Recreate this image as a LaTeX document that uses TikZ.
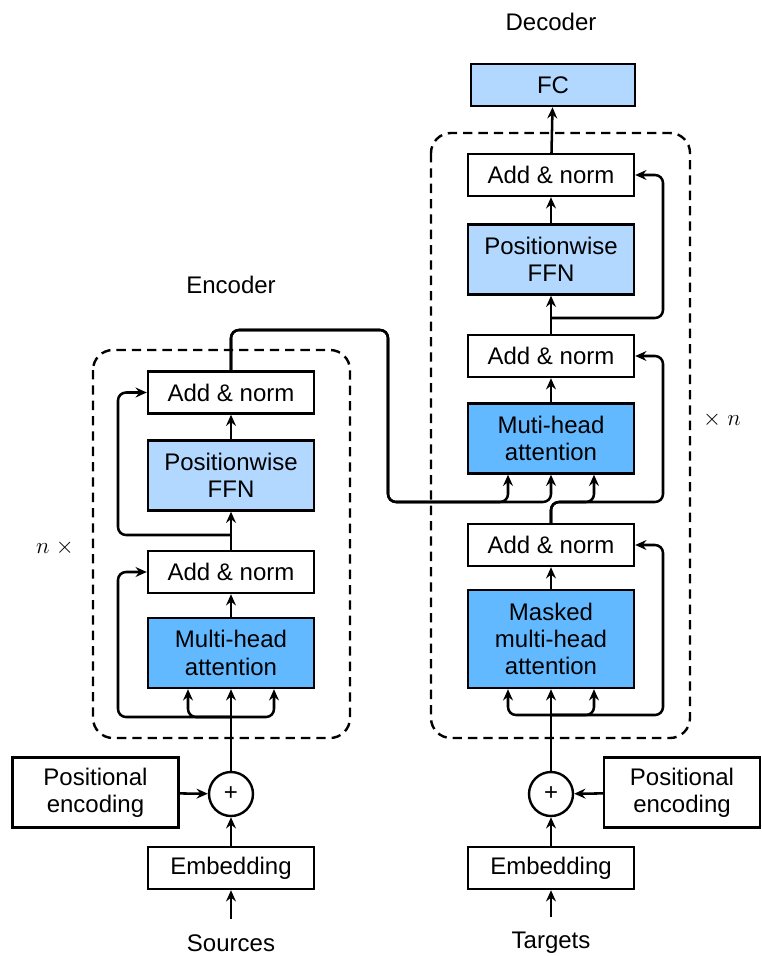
\documentclass[tikz,border=0pt]{standalone}
\usepackage{fontspec}
\setmainfont{Liberation Sans}
\usepackage{xcolor}
\usepackage{tikz}
\usetikzlibrary{arrows.meta}

\definecolor{attblue}{RGB}{99,185,255}
\definecolor{ffnblue}{RGB}{178,216,255}

\begin{document}
\begin{tikzpicture}[x=0.75pt,y=0.75pt,yscale=-1,xscale=1,
    every node/.style={font=\fontsize{18}{20.5}\selectfont},
    box/.style={draw,line width=1.8pt,minimum width=124.5pt,inner sep=0pt,align=center},
    normbox/.style={box,fill=white,minimum height=31.5pt},
    ffnbox/.style={box,fill=ffnblue,minimum height=52.5pt},
    attbox/.style={box,fill=attblue,minimum height=52.5pt},
    plusnode/.style={draw,circle,line width=1.8pt,minimum size=33pt,inner sep=0pt},
    link/.style={line width=1.9pt,rounded corners=6pt,-{Stealth[length=8.5pt,width=7.5pt,inset=3pt]}},
    stack/.style={draw,line width=1.8pt,dash pattern=on 7pt off 4.5pt,rounded corners=15pt}]
        \useasboundingbox (0,0) rectangle (761,956);

        % dashed stacks
        \draw[stack] (93,350) rectangle (350,738);
        \draw[stack] (431,133) rectangle (690,738);

        % encoder
        \node (enclabel) at (231,285) {Encoder};
        \node[normbox] (eadd2) at (231,392.5) {Add \& norm};
        \node[ffnbox] (effn) at (231,475.5) {Positionwise\\FFN};
        \node[normbox] (eadd1) at (231,572) {Add \& norm};
        \node[attbox] (eatt) at (231,653) {Multi-head\\attention};
        \node[plusnode] (eplus) at (231,794) {+};
        \node[box,minimum height=52.5pt] (epos) at (95.5,792.5) {Positional\\encoding};
        \node[normbox] (eemb) at (231,868) {Embedding};
        \node (src) at (231,943) {Sources};
        \node (encn) at (55,548) {$n\;\times$};
        \coordinate (ebr) at (231,717);
        \coordinate (emid) at (231,535);

        % decoder
        \node (declabel) at (551,22) {Decoder};
        \node[box,fill=ffnblue,minimum width=123pt,minimum height=31.5pt] (fc) at (553,85) {FC};
        \node[normbox] (dadd3) at (551,175) {Add \& norm};
        \node[ffnbox] (dffn) at (551,259.5) {Positionwise\\FFN};
        \node[normbox] (dadd2) at (551,356) {Add \& norm};
        \node[attbox] (datt) at (551,438.5) {Muti-head\\attention};
        \node[normbox] (dadd1) at (551,545) {Add \& norm};
        \node[attbox,minimum height=73.5pt] (dmask) at (551,639) {Masked\\multi-head\\attention};
        \node[plusnode] (dplus) at (551,794) {+};
        \node[box,minimum width=117pt,minimum height=52.5pt] (dpos) at (682,792.5) {Positional\\encoding};
        \node[normbox] (demb) at (551,868) {Embedding};
        \node (tgt) at (551,943) {Targets};
        \node (decn) at (722,420) {$\times\; n$};
        \coordinate (dbr) at (551,715);
        \coordinate (dmid) at (551,318);
        \coordinate (dup) at (551,502);

        % encoder links
        \draw[link,shorten <=8pt] (src) -- (eemb);
        \draw[link] (eemb) -- (eplus);
        \draw[link] (epos) -- (eplus);
        \draw[link] (eplus) -- (eatt);
        \draw[link] (ebr) -| ([xshift=-32.25pt]eatt.south);
        \draw[link] (ebr) -| ([xshift=32.25pt]eatt.south);
        \draw[link] (ebr) -- (118,717) |- (eadd1.west);
        \draw[link] (eatt) -- (eadd1);
        \draw[link] (eadd1) -- (effn);
        \draw[link] (emid) -- (118,535) |- (eadd2.west);
        \draw[link] (effn) -- (eadd2);

        % encoder to decoder
        \draw[link] (eadd2.north) -- (231,330) -- (388,330) -- (388,502) -| ([xshift=-32.25pt]datt.south);
        \draw[link] (eadd2.north) -- (231,330) -- (388,330) -- (388,502) -| (datt.south);

        % decoder links
        \draw[link,shorten <=8pt] (tgt) -- (demb);
        \draw[link] (demb) -- (dplus);
        \draw[link] (dpos) -- (dplus);
        \draw[link] (dplus) -- (dmask);
        \draw[link] (dbr) -| ([xshift=-32.25pt]dmask.south);
        \draw[link] (dbr) -| ([xshift=32.25pt]dmask.south);
        \draw[link] (dbr) -- (663,715) |- (dadd1.east);
        \draw[link] (dmask) -- (dadd1);
        \draw[link] (dadd1.north) -- (dup) -| ([xshift=32.25pt]datt.south);
        \draw[link] (dadd1.north) -- (dup) -- (663,502) |- (dadd2.east);
        \draw[link] (datt) -- (dadd2);
        \draw[link] (dadd2) -- (dffn);
        \draw[link] (dmid) -- (663,318) |- (dadd3.east);
        \draw[link] (dffn) -- (dadd3);
        \draw[link] (dadd3) -- (fc);
    \end{tikzpicture}
\end{document}
